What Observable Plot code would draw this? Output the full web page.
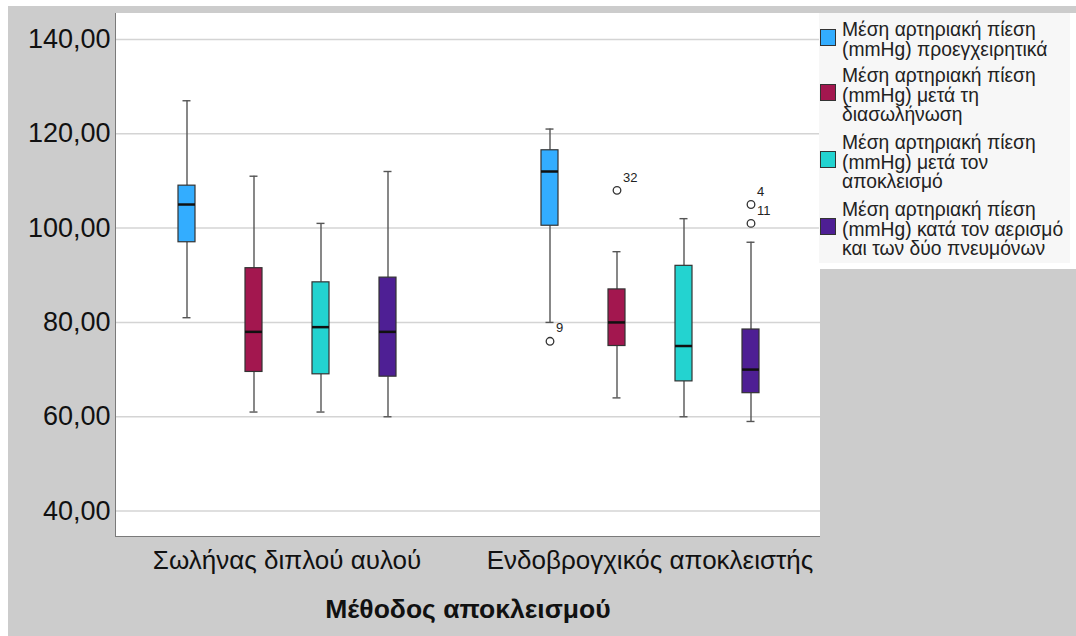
<!DOCTYPE html>
<html>
<head>
<meta charset="utf-8">
<script src="https://cdn.jsdelivr.net/npm/d3@7"></script>
<script src="https://cdn.jsdelivr.net/npm/@observablehq/plot@0.6"></script>
<style>
  html, body { margin: 0; padding: 0; background: #ffffff; }
  body { font-family: "Liberation Sans", Arial, sans-serif; }
  #wrap { position: relative; width: 1076px; height: 636px; overflow: hidden; }
  #gray { position: absolute; left: 8px; top: 6px; right: 0; bottom: 0; background: #cccccc; }
  #plotbg { position: absolute; left: 115px; top: 13px; width: 704px; height: 523px; background: #ffffff;
            border-left: 1px solid #7a7a7a; border-bottom: 1px solid #7a7a7a; }
  .layer { position: absolute; left: 0; top: 0; }
  #legendOuter { position: absolute; left: 819px; top: 13px; width: 257px; height: 256px; background: #ffffff; }
  #legend { position: absolute; left: 0; top: 0; width: 251px; height: 250px; background: #f7f7f7; }
  .item { position: absolute; left: 1px; display: flex; align-items: center; }
  .sw { width: 16px; height: 17px; border: 1px solid #333; box-sizing: border-box; flex: none; margin-right: 6px; margin-bottom: 5px; }
  .lab { font-size: 19.3px; line-height: 19.5px; color: #222; width: 228px; }
  #xtitle { position: absolute; left: 116px; width: 704px; top: 594px; text-align: center; font-weight: bold; font-size: 26.5px; color: #111; }
</style>
</head>
<body>
<div id="wrap">
  <div id="gray"></div>
  <div id="plotbg"></div>
  <div id="grid" class="layer"></div>
  <div id="chart" class="layer"></div>
  <div id="legendOuter"><div id="legend"></div></div>
  <div id="xtitle">Μέθοδος αποκλεισμού</div>
</div>
<script>
// ---- data ----
const groups = ["Σωλήνας διπλού αυλού", "Ενδοβρογχικός αποκλειστής"];
const series = [
  "Μέση αρτηριακή πίεση (mmHg) προεγχειρητικά",
  "Μέση αρτηριακή πίεση (mmHg) μετά τη διασωλήνωση",
  "Μέση αρτηριακή πίεση (mmHg) μετά τον αποκλεισμό",
  "Μέση αρτηριακή πίεση (mmHg) κατά τον αερισμό και των δύο πνευμόνων"
];
const colors = ["#33adff", "#a3174f", "#23d3d0", "#4e1f94"];

// per group: values for the 4 series
const whiskerLow  = [[81, 61, 61, 60], [80, 64, 60, 59]];
const quart1      = [[97, 69.5, 69, 68.5], [100.5, 75, 67.5, 65]];
const medians     = [[105, 78, 79, 78], [112, 80, 75, 70]];
const quart3      = [[109, 91.5, 88.5, 89.5], [116.5, 87, 92, 78.5]];
const whiskerHigh = [[127, 111, 101, 112], [121, 95, 102, 97]];

// outliers
const outlierGroup  = [1, 1, 1, 1];
const outlierSeries = [0, 1, 3, 3];
const outlierValue  = [76, 108, 105, 101];
const outlierLabel  = ["9", "32", "4", "11"];

const yTicks = [40, 60, 80, 100, 120, 140];
const yDomain = [34.4, 145.5];

// ---- build tables ----
const rows = [];
groups.forEach((g, gi) => series.forEach((s, si) => rows.push({
  group: g, series: s,
  lo: whiskerLow[gi][si], q1: quart1[gi][si], med: medians[gi][si],
  q3: quart3[gi][si], hi: whiskerHigh[gi][si]
})));
const outRows = outlierValue.map((v, i) => ({
  group: groups[outlierGroup[i]], series: series[outlierSeries[i]], value: v, label: outlierLabel[i]
}));

const fmt = d => d.toFixed(2).replace(".", ",");
const frame = { width: 1076, height: 636, marginLeft: 116, marginRight: 256, marginTop: 13, marginBottom: 99 };
const style = { background: "transparent", fontFamily: "'Liberation Sans', Arial, sans-serif", color: "#111" };

// underlay: y axis + horizontal grid across the whole plot area
const gridPlot = Plot.plot({
  ...frame, style,
  y: { domain: yDomain, label: null },
  marks: [
    Plot.gridY(yTicks, { stroke: "#d4d4d4", strokeOpacity: 1, strokeWidth: 1.5 }),
    Plot.axisY({ ticks: yTicks, tickFormat: fmt, tickSize: 0, tickPadding: 6, fontSize: 27, label: null })
  ]
});
document.getElementById("grid").appendChild(gridPlot);

// main boxplot chart, faceted by method
const chart = Plot.plot({
  ...frame, style,
  fx: { domain: groups, paddingInner: 0.1, paddingOuter: 0.0177, label: null },
  x: { domain: series, paddingInner: 0.7474, paddingOuter: 0.806, axis: null },
  y: { domain: yDomain, label: null, axis: null },
  color: { domain: series, range: colors },
  marks: [
    Plot.axisFx({ anchor: "bottom", tickSize: 0, tickPadding: 13, fontSize: 26, label: null }),
    Plot.ruleX(rows, { fx: "group", x: "series", y1: "lo", y2: "q1", stroke: "#555", strokeWidth: 1.4 }),
    Plot.ruleX(rows, { fx: "group", x: "series", y1: "q3", y2: "hi", stroke: "#555", strokeWidth: 1.4 }),
    Plot.tickY(rows, { fx: "group", x: "series", y: "lo", stroke: "#555", strokeWidth: 1.4, insetLeft: 4.5, insetRight: 4.5 }),
    Plot.tickY(rows, { fx: "group", x: "series", y: "hi", stroke: "#555", strokeWidth: 1.4, insetLeft: 4.5, insetRight: 4.5 }),
    Plot.barY(rows, { fx: "group", x: "series", y1: "q1", y2: "q3", fill: "series", stroke: "#333", strokeWidth: 1.2 }),
    Plot.tickY(rows, { fx: "group", x: "series", y: "med", stroke: "#111", strokeWidth: 2.5 }),
    Plot.dot(outRows, { fx: "group", x: "series", y: "value", r: 3.8, stroke: "#333", fill: "white", strokeWidth: 1.3 }),
    Plot.text(outRows, { fx: "group", x: "series", y: "value", text: "label", textAnchor: "start", dx: 6, dy: -13, fontSize: 13, fill: "#222" })
  ]
});
document.getElementById("chart").appendChild(chart);

// ---- legend ----
const legend = document.getElementById("legend");
const legendTops = [7, 53, 120, 187];
series.forEach((s, i) => {
  const item = document.createElement("div");
  item.className = "item";
  item.style.top = legendTops[i] + "px";
  const sw = document.createElement("div");
  sw.className = "sw";
  sw.style.background = colors[i];
  const lab = document.createElement("div");
  lab.className = "lab";
  lab.textContent = s;
  item.appendChild(sw);
  item.appendChild(lab);
  legend.appendChild(item);
});
</script>
</body>
</html>
